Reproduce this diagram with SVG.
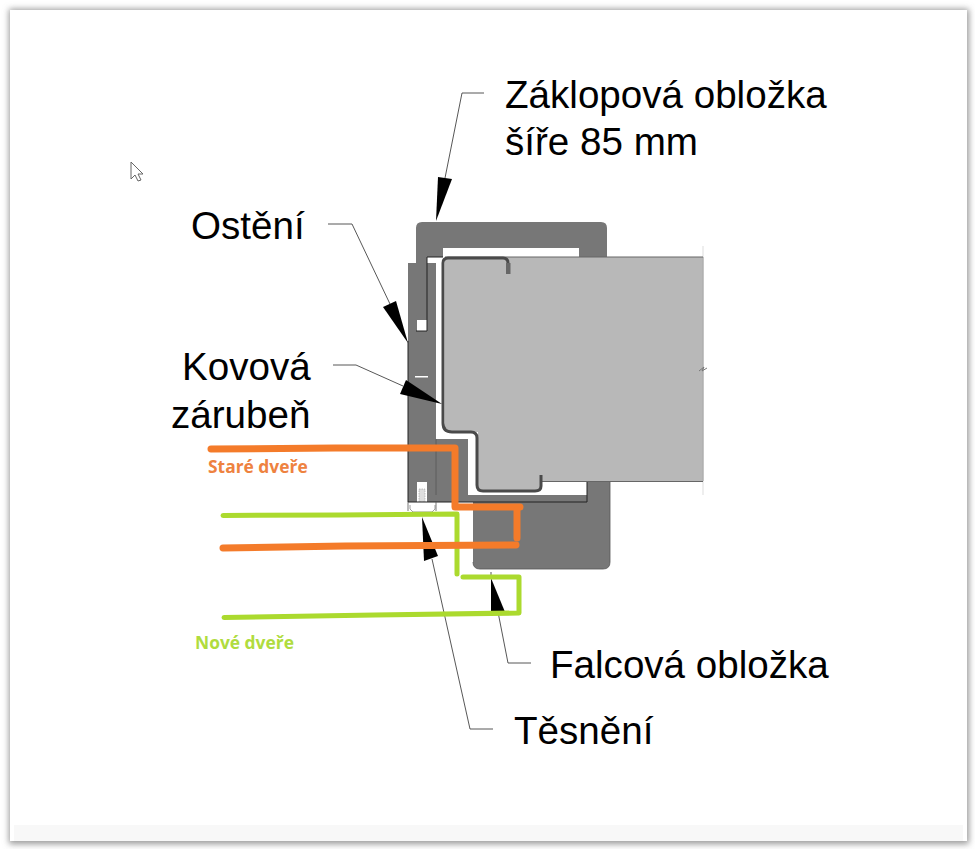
<svg xmlns="http://www.w3.org/2000/svg" width="975" height="849" viewBox="0 0 975 849">
<style>
.lbl{font-family:"Liberation Sans",Arial,sans-serif;font-size:38.600px;fill:#000}
.hand{font-family:"Open Sans","Noto Sans",sans-serif;font-size:17.400px;font-weight:700}
.g{fill:#777}
.w{fill:#fff}
.edge{fill:none;stroke:#222;stroke-width:1}
.soft{fill:none;stroke:#555;stroke-width:.8}
.lead{fill:none;stroke:#444;stroke-width:.9}
.wedge{fill:#000}
.or{fill:none;stroke:#F47B2A;stroke-width:7;stroke-linecap:round;stroke-linejoin:round}
.gr{fill:none;stroke:#ABDA2E;stroke-width:5;stroke-linecap:round;stroke-linejoin:round}
</style>
<defs>
<filter id="sh" x="-5%" y="-5%" width="110%" height="110%"><feGaussianBlur stdDeviation="3"/></filter>
</defs>
<rect width="975" height="849" fill="#fff"/>
<rect x="9" y="9" width="960" height="835" fill="#999" filter="url(#sh)"/>
<rect id="page" x="10" y="10" width="957" height="831" fill="#fff"/>
<rect x="14" y="825" width="949" height="16" fill="#f8f8f8"/>
<path id="cursor" d="M131 162V179L135 175L138 181L141 180L138 174H143Z" fill="#fff" stroke="#666" stroke-width="1"/>

<g id="cut-away">
  <rect class="g" x="408" y="263" width="28" height="239"/>
  <path class="edge" d="M408 341V502"/>
  <path class="g" d="M436 439H468V495H436Z"/>
  <path class="w" d="M436 263H441V439H436Z"/>
  <path class="g" d="M416 228Q416 222 422 222H601Q607 222 607 228V258H579V248H443V257H427V320H421L416 315Z"/>
  <rect class="w" x="417" y="320" width="10" height="11"/>
  <path class="edge" d="M416 331H427V257H443"/>
  <rect class="w" x="415" y="376" width="13" height="1.500"/>
  <path id="door" d="M445 257H703V481.500H541V490H478V432H445Z" fill="#b8b8b8"/>
  <path d="M703 246V495" fill="none" stroke="#ddd"/>
  <path d="M703 257V481" fill="none" stroke="#999"/>
  <path d="M699 371L704 367L702 371L707 368" fill="none" stroke="#777"/>
  <path d="M445 257H703M541 481.500H703" fill="none" stroke="#666"/>
  <path id="frame" d="M508 274V263Q508 258 503 258H448Q443 258 443 263V423Q443 432 452 432H471Q477 432 477 438V485Q477 491 483 491H535Q541 491 541 486V475" fill="none" stroke="#4a4a4a" stroke-width="3"/>
  <rect x="506" y="263" width="4.500" height="11" fill="#666"/>
  <path class="g" d="M436 495H587V482H610V562Q610 569 603 569H480Q473 569 473 562V502H436Z"/>
  <path class="edge" d="M436 502H587V482"/>
  <path class="soft" d="M473 562Q473 569 480 569H603Q610 569 610 562V482M436 439V495"/>
  <rect class="w" x="417" y="482" width="10" height="20"/>
  <rect x="419" y="489" width="6" height="13" fill="#ddd" stroke="#888" stroke-width=".5" stroke-dasharray="1.500 1"/>
  <rect class="w" x="408" y="502" width="28" height="11"/>
  <path class="edge" d="M408 502H436"/>
  <path class="soft" d="M436 502V511M408 502V511"/>
  <path d="M410 505V509L413 512H432L435 509V505" fill="#fff" stroke="#777" stroke-width=".7"/>
</g>

<g id="connectors">
  <path class="lead" d="M484 93H462L445 178"/>
  <path class="wedge" d="M436 221L438 177L452 179Z"/>
  <path class="lead" d="M328 224H352L390 304"/>
  <path class="wedge" d="M408 343L383 307L396 301Z"/>
  <path class="lead" d="M333 365H356L403 386"/>
  <path class="wedge" d="M442 404L406 380L400 394Z"/>
  <path class="lead" d="M493 729H470L432 559"/>
  <path class="wedge" d="M422 517L424 561L438 556Z"/>
  <path class="lead" d="M531 663H508L498 612M491 572V578"/>
  <path class="wedge" d="M491 578L491 612L505 612Z"/>
</g>

<g id="new-door">
  <path class="gr" d="M223 515.500L340 515L457 514V574"/>
  <path class="gr" d="M463 577H519V613L375 615L224 617.500"/>
</g>
<g id="old-door">
  <path class="or" d="M211 449L335 448L455 448V507H520"/>
  <path class="or" d="M517 510V538"/>
  <path class="or" d="M223 548L345 546L516 545"/>
</g>

<g id="label-zaklopova"><text class="lbl" x="505" y="108">Záklopová obložka</text><text class="lbl" x="505" y="155">šíře 85 mm</text></g>
<g id="label-osteni"><text class="lbl" x="191" y="239">Ostění</text></g>
<g id="label-kovova"><text class="lbl" x="182" y="380">Kovová</text><text class="lbl" x="171" y="428">zárubeň</text></g>
<g id="label-falcova"><text class="lbl" x="550" y="678">Falcová obložka</text></g>
<g id="label-tesneni"><text class="lbl" x="514" y="744">Těsnění</text></g>
<g id="label-stare"><text class="hand" x="208" y="473" fill="#EE8240">Staré dveře</text></g>
<g id="label-nove"><text class="hand" x="195" y="649" fill="#B0DC3E">Nové dveře</text></g>
</svg>
